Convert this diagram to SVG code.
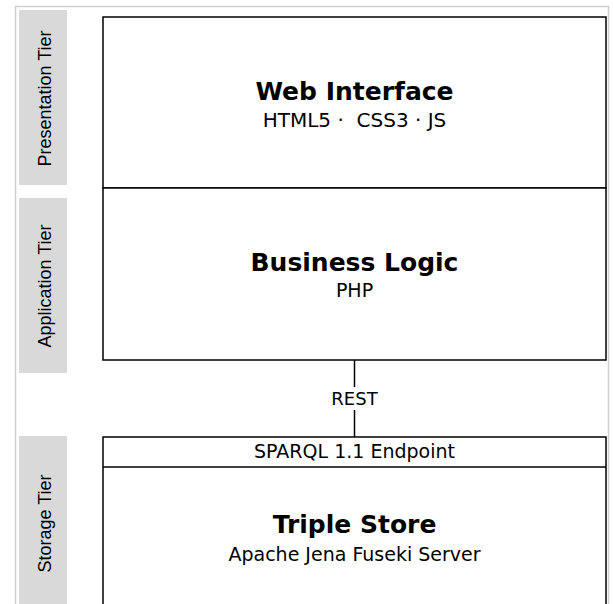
<svg xmlns="http://www.w3.org/2000/svg" width="613" height="604" viewBox="0 0 613 604">
<style>
.frame{fill:#fff;stroke:#d0d0d0;stroke-width:1.5}
.tier{fill:#d9d9d9}
.tl{font-family:"Liberation Sans",Arial,sans-serif;font-size:18px;fill:#000;text-anchor:middle}
.box{fill:#fff;stroke:#000;stroke-width:1.5}
.t{font-family:"DejaVu Sans",Verdana,sans-serif;font-weight:bold;font-size:25px;fill:#000;text-anchor:middle}
.s{font-family:"DejaVu Sans",Verdana,sans-serif;font-size:19px;fill:#000;text-anchor:middle;white-space:pre}
.c{stroke:#000;stroke-width:1.5;fill:none}
</style>
<rect class="frame" x="15.5" y="6.5" width="593" height="610"/>
<g id="tier-presentation"><rect class="tier" x="19" y="10" width="48" height="175"/><text class="tl" transform="translate(50.5,98.5) rotate(-90)">Presentation Tier</text></g>
<g id="tier-application"><rect class="tier" x="19" y="198" width="48" height="175"/><text class="tl" transform="translate(50.5,286) rotate(-90)">Application Tier</text></g>
<g id="tier-storage"><rect class="tier" x="19" y="436" width="48" height="180"/><text class="tl" transform="translate(50.5,523.5) rotate(-90)">Storage Tier</text></g>
<g id="web-interface"><rect class="box" x="103" y="17" width="503" height="171"/><text class="t" x="354.5" y="100">Web Interface</text><text class="s" x="354.5" y="127" style="font-size:20px">HTML5 ·  CSS3 · JS</text></g>
<g id="business-logic"><rect class="box" x="103" y="188" width="503" height="172"/><text class="t" x="354.5" y="271">Business Logic</text><text class="s" x="354.5" y="297">PHP</text></g>
<g id="triple-store"><rect class="box" x="103" y="437" width="503" height="180"/><line class="c" x1="103" y1="467" x2="606" y2="467"/><text class="s" x="354.5" y="458">SPARQL 1.1 Endpoint</text><text class="t" x="354.5" y="533">Triple Store</text><text class="s" x="354.5" y="561">Apache Jena Fuseki Server</text></g>
<g id="connectors"><line class="c" x1="354.5" y1="360" x2="354.5" y2="387"/><line class="c" x1="354.5" y1="410" x2="354.5" y2="437"/><text class="s" x="354.5" y="405" style="font-size:18px">REST</text></g>
</svg>
